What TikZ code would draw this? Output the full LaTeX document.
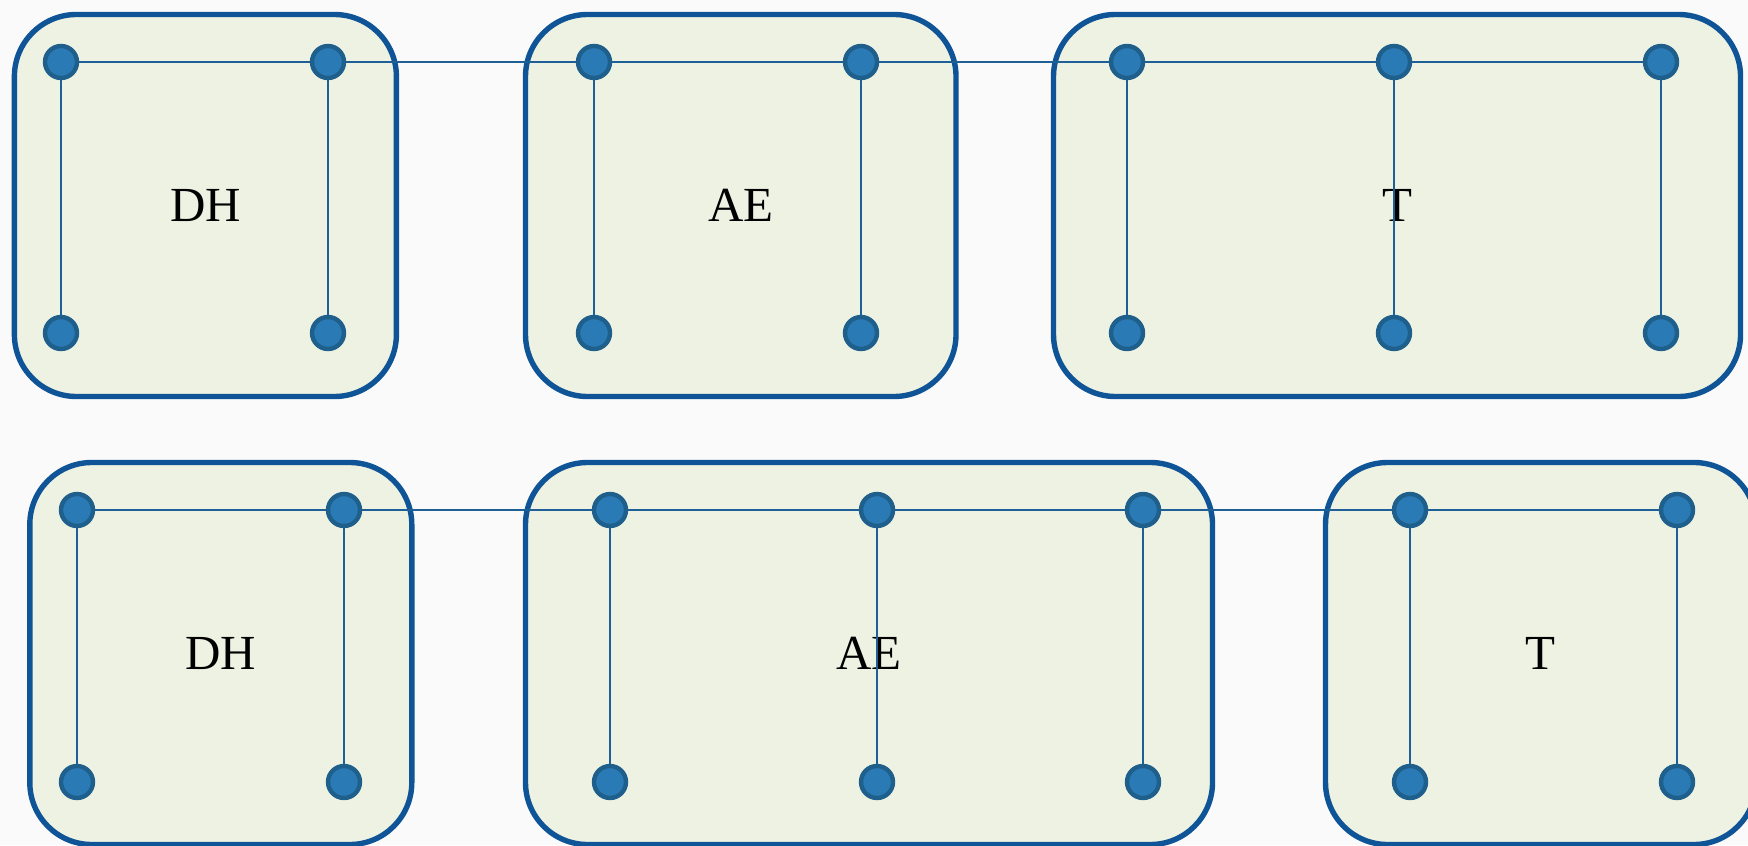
\documentclass[tikz,border=0pt]{standalone}
\usepackage{fontspec}
\setmainfont{Liberation Serif}
\definecolor{frameblue}{HTML}{0E5496}
\definecolor{panelfill}{HTML}{EEF2E2}
\definecolor{dotfill}{HTML}{2A7AB5}
\definecolor{dotrim}{HTML}{1F5F8C}
\definecolor{wirecol}{HTML}{1E5F96}
\definecolor{paper}{HTML}{FAFAFA}
\begin{document}
\begin{tikzpicture}[x=0.5pt,y=-0.5pt,
  panel/.style={draw=frameblue, fill=panelfill, line width=2.7pt,
    rounded corners=31pt, minimum height=191pt, inner sep=0pt,
    font=\fontsize{24.5}{28}\selectfont},
  dot/.style={circle, draw=dotrim, fill=dotfill, line width=2.2pt,
    minimum size=16pt, inner sep=0pt},
  wire/.style={draw=wirecol, line width=1.1pt}]
\fill[paper] (0,0) rectangle (1748,845);
\useasboundingbox (0,0) rectangle (1748,845);

% first row of panels
\node[panel, minimum width=191pt]    (pa1) at (205.4,205.5) {DH};
\node[panel, minimum width=215.25pt] (pa2) at (740.75,205.5) {AE};
\node[panel, minimum width=343.5pt]  (pa3) at (1397,205.5) {T};

% second row of panels
\node[panel, minimum width=191pt]    (pb1) at (220.8,653.5) {DH};
\node[panel, minimum width=343.5pt]  (pb2) at (869,653.5) {AE};
\node[panel, minimum width=215.25pt] (pb3) at (1540.75,653.5) {T};

% terminals, first row
\foreach \i/\x in {1/61,2/328,3/594,4/861,5/1127,6/1394,7/1661}{
  \node[dot] (at\i) at (\x,62) {};
  \node[dot] (ab\i) at (\x,333) {};
}
% terminals, second row
\foreach \i/\x in {1/77,2/344,3/610,4/877,5/1143,6/1410,7/1677}{
  \node[dot] (bt\i) at (\x,510) {};
  \node[dot] (bb\i) at (\x,782) {};
}

% wiring
\foreach \i in {1,...,7}{
  \draw[wire] (at\i) -- (ab\i);
  \draw[wire] (bt\i) -- (bb\i);
}
\foreach \i/\j in {1/2,2/3,3/4,4/5,5/6,6/7}{
  \draw[wire] (at\i) -- (at\j);
  \draw[wire] (bt\i) -- (bt\j);
}
\end{tikzpicture}
\end{document}
